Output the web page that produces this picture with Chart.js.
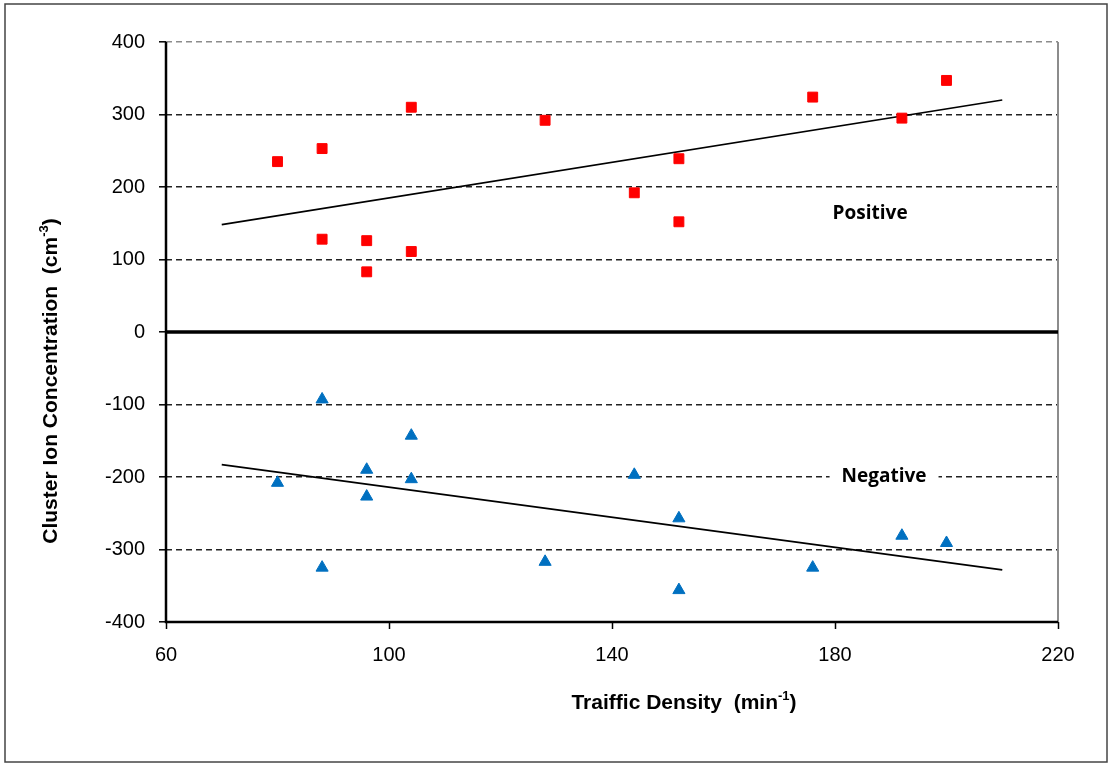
<!DOCTYPE html>
<html>
<head>
<meta charset="utf-8">
<script src="https://cdn.jsdelivr.net/npm/chart.js@4/dist/chart.umd.min.js"></script>
<style>
  html, body { margin: 0; padding: 0; background: #fff; }
  #wrap { width: 1110px; height: 765px; position: relative; }
</style>
</head>
<body>
<div id="wrap"><canvas id="ionChart"></canvas></div>
<script>
// values
const posX = [80, 88, 88, 96, 96, 104, 104, 128, 144, 152, 152, 176, 192, 200];
const posY = [235, 253, 128, 126, 83, 310, 111, 292, 192, 239, 152, 324, 295, 347];
const negX = [80, 88, 88, 96, 96, 104, 104, 128, 144, 152, 152, 176, 192, 200];
const negY = [-208, -93, -325, -190, -227, -143, -203, -317, -197, -257, -356, -325, -281, -291];

// trend line end points
const trendX = [70, 210];
const trendPosY = [148, 320];
const trendNegY = [-183, -328];

const xTicks = [60, 100, 140, 180, 220];
const yTicks = [-400, -300, -200, -100, 0, 100, 200, 300, 400];

const toPoints = (xs, ys) => xs.map((x, i) => ({ x: x, y: ys[i] }));

const AXIS_FONT = "'Liberation Sans', Arial, sans-serif";
const LABEL_FONT = "'Open Sans', 'Noto Sans', sans-serif";

// draw a text run with a superscript part
function drawRuns(ctx, runs, cx, cy) {
    let total = 0;
    runs.forEach(r => {
        ctx.font = r.sup ? "bold 13px " + AXIS_FONT : "bold 21px " + AXIS_FONT;
        r.w = ctx.measureText(r.t).width;
        total += r.w;
    });
    let x = cx - total / 2;
    ctx.textBaseline = "middle";
    ctx.textAlign = "left";
    runs.forEach(r => {
        ctx.font = r.sup ? "bold 13px " + AXIS_FONT : "bold 21px " + AXIS_FONT;
        ctx.fillText(r.t, x, r.sup ? cy - 7 : cy);
        x += r.w;
    });
}

const overlay = {
    id: "overlay",
    beforeDatasetsDraw(chart) {
        const { ctx, chartArea: a, scales } = chart;
        const y0 = scales.y.getPixelForValue(0);
        ctx.save();
        // right border of plot
        ctx.strokeStyle = "#8c8c8c";
        ctx.lineWidth = 2;
        ctx.beginPath();
        ctx.moveTo(a.right, a.top);
        ctx.lineTo(a.right, a.bottom);
        ctx.stroke();
        // zero line
        ctx.strokeStyle = "#000";
        ctx.lineWidth = 3.5;
        ctx.beginPath();
        ctx.moveTo(a.left, y0);
        ctx.lineTo(a.right, y0);
        ctx.stroke();
        // axis lines
        ctx.lineWidth = 2.5;
        ctx.beginPath();
        ctx.moveTo(a.left, a.top);
        ctx.lineTo(a.left, a.bottom);
        ctx.lineTo(a.right, a.bottom);
        ctx.stroke();
        ctx.restore();
    },
    afterDraw(chart) {
        const { ctx, scales } = chart;
        ctx.save();
        ctx.fillStyle = "#000";

        // series labels
        ctx.font = "bold 19px " + LABEL_FONT;
        ctx.textAlign = "center";
        ctx.textBaseline = "middle";
        const px = scales.x.getPixelForValue(186.3);
        const py = scales.y.getPixelForValue(164);
        ctx.fillText("Positive", px, py);
        const nx = scales.x.getPixelForValue(188.8);
        const ny = scales.y.getPixelForValue(-200);
        const nw = ctx.measureText("Negative").width;
        ctx.fillStyle = "#fff";
        ctx.fillRect(nx - nw / 2 - 12, ny - 10, nw + 24, 20);
        ctx.fillStyle = "#000";
        ctx.fillText("Negative", nx, ny);

        // axis titles
        drawRuns(ctx, [
            { t: "Traiffic Density  (min" },
            { t: "-1", sup: true },
            { t: ")" }
        ], 684, 703);

        ctx.save();
        ctx.translate(51, 381);
        ctx.rotate(-Math.PI / 2);
        drawRuns(ctx, [
            { t: "Cluster Ion Concentration  (cm" },
            { t: "-3", sup: true },
            { t: ")" }
        ], 0, 0);
        ctx.restore();

        // outer frame
        ctx.strokeStyle = "#444";
        ctx.lineWidth = 1.5;
        ctx.strokeRect(5, 4, 1102, 758);
        ctx.restore();
    }
};

const ctx = document.getElementById("ionChart");

new Chart(ctx, {
    data: {
        datasets: [
            {
                type: "scatter",
                label: "Positive",
                data: toPoints(posX, posY),
                pointStyle: "rect",
                pointRadius: 7,
                pointBackgroundColor: "#ff0000",
                pointBorderColor: "#ff0000",
                pointBorderWidth: 1
            },
            {
                type: "scatter",
                label: "Negative",
                data: toPoints(negX, negY),
                pointStyle: "triangle",
                pointRadius: 7,
                pointBackgroundColor: "#0070c0",
                pointBorderColor: "#0070c0",
                pointBorderWidth: 1
            },
            {
                type: "line",
                label: "Positive trend",
                data: toPoints(trendX, trendPosY),
                borderColor: "#000",
                borderWidth: 1.7,
                pointRadius: 0,
                fill: false
            },
            {
                type: "line",
                label: "Negative trend",
                data: toPoints(trendX, trendNegY),
                borderColor: "#000",
                borderWidth: 1.7,
                pointRadius: 0,
                fill: false
            }
        ]
    },
    options: {
        responsive: true,
        maintainAspectRatio: false,
        animation: false,
        layout: { padding: { top: 42, right: 52, left: 0, bottom: 0 } },
        plugins: {
            legend: { display: false },
            tooltip: { enabled: false }
        },
        scales: {
            x: {
                type: "linear",
                min: 60,
                max: 220,
                afterFit: (scale) => { scale.height = 143; },
                afterBuildTicks: (scale) => { scale.ticks = xTicks.map(v => ({ value: v })); },
                ticks: {
                    color: "#000",
                    padding: 14,
                    font: { family: AXIS_FONT, size: 20 }
                },
                grid: {
                    drawOnChartArea: false,
                    drawTicks: true,
                    tickLength: 7,
                    tickColor: "#000",
                    tickWidth: 1.5
                },
                border: { display: false }
            },
            y: {
                type: "linear",
                min: -400,
                max: 400,
                afterFit: (scale) => { scale.width = 166; },
                afterBuildTicks: (scale) => { scale.ticks = yTicks.map(v => ({ value: v })); },
                ticks: {
                    color: "#000",
                    padding: 14,
                    font: { family: AXIS_FONT, size: 20 }
                },
                grid: {
                    color: (c) => {
                        if (!c.tick) return "#222";
                        if (c.tick.value === 0) return "rgba(0,0,0,0)";
                        if (c.tick.value === 400) return "#8c8c8c";
                        return "#222";
                    },
                    lineWidth: 1.6,
                    tickLength: 7,
                    tickColor: "#000",
                    tickWidth: 1.5
                },
                border: { display: false, dash: [6, 4] }
            }
        }
    },
    plugins: [overlay]
});
</script>
</body>
</html>
